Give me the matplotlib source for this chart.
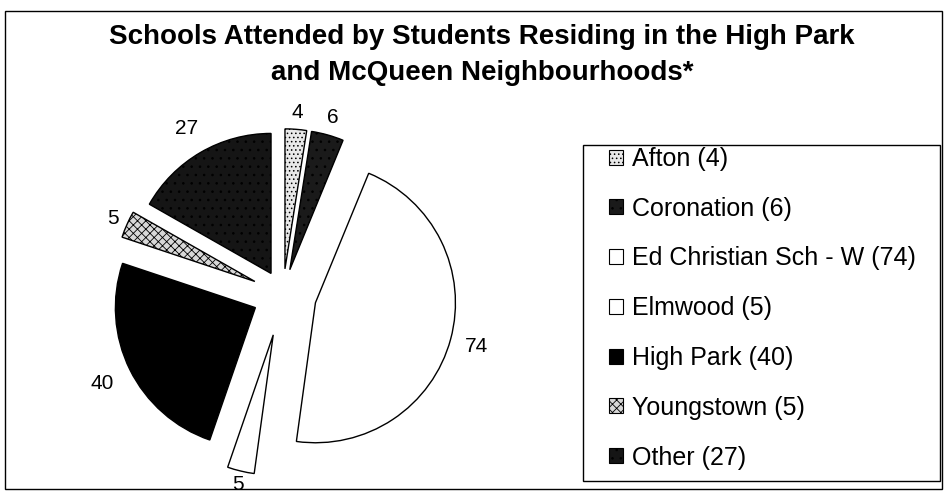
import matplotlib
matplotlib.use("Agg")
import matplotlib.pyplot as plt
import numpy as np
from matplotlib.patches import Rectangle

plt.rcParams['font.family'] = ['Liberation Sans', 'DejaVu Sans']
plt.rcParams['hatch.linewidth'] = 0.6

schools = ["Afton", "Coronation", "Ed Christian Sch - W", "Elmwood",
           "High Park", "Youngstown", "Other"]
students = [4, 6, 74, 5, 40, 5, 27]

face_colors = ["#e8e8e8", "#1a1a1a", "white", "white", "black", "#d8d8d8", "#151515"]
hatches = ["....", "..", None, None, None, "xxxx", ".."]
explode = [0.18, 0.18, 0.24, 0.3, 0.22, 0.22, 0.17]
# distance of each value label from the pie centre, in radii
label_dist = [1.30, 1.31, 1.43, 1.40, 1.44, 1.33, 1.37]

W, H = 948, 494
fig = plt.figure(figsize=(W / 100, H / 100), dpi=100)

# outer frame
fig.patches.append(Rectangle((5 / W, 5 / H), 937 / W, (H - 16) / H,
                             transform=fig.transFigure, fill=False,
                             edgecolor="black", linewidth=1.0))

fig.text(482 / W, 1 - 55 / H,
         "Schools Attended by Students Residing in the High Park\nand McQueen Neighbourhoods*",
         ha="center", va="center", fontsize=20, fontweight="bold", linespacing=1.5)

# pie axes centred around pixel (283, 294), radius 140 px
cx, cy, half = 283, 294, 200
ax = fig.add_axes([(cx - half) / W, (H - cy - half) / H, 2 * half / W, 2 * half / H])
wedges, texts = ax.pie(students, labels=[str(v) for v in students], startangle=90,
                       counterclock=False, explode=explode, labeldistance=1.17,
                       wedgeprops=dict(edgecolor="black", linewidth=1.0),
                       textprops=dict(fontsize=15))
for w, t, fc, ht, d in zip(wedges, texts, face_colors, hatches, label_dist):
    w.set_facecolor(fc)
    if ht:
        w.set_hatch(ht)
        w.set_edgecolor("black")
    ang = np.deg2rad((w.theta1 + w.theta2) / 2)
    t.set_position((d * np.cos(ang), d * np.sin(ang)))
    t.set_ha("center")
    t.set_va("center")
ax.set_xlim(-half / 140, half / 140)
ax.set_ylim(-half / 140, half / 140)
ax.set_aspect("equal")
ax.axis("off")

# legend box
fig.patches.append(Rectangle((583 / W, 1 - 481 / H), 357 / W, 336 / H,
                             transform=fig.transFigure, facecolor="white",
                             edgecolor="black", linewidth=1.0))

handles = []
for w in wedges:
    handles.append(Rectangle((0, 0), 1, 1, facecolor=w.get_facecolor(),
                             hatch=w.get_hatch(), edgecolor="black", linewidth=0.8))
leg_labels = [f"{s} ({v})" for s, v in zip(schools, students)]
leg = fig.legend(handles, leg_labels, loc="upper left",
                 bbox_to_anchor=(609 / W, 1 - 147 / H), fontsize=18,
                 frameon=False,
                 handlelength=0.55, handleheight=0.55, handletextpad=0.35,
                 labelspacing=1.03, borderpad=0, borderaxespad=0)

fig.savefig("out.png", dpi=100)
